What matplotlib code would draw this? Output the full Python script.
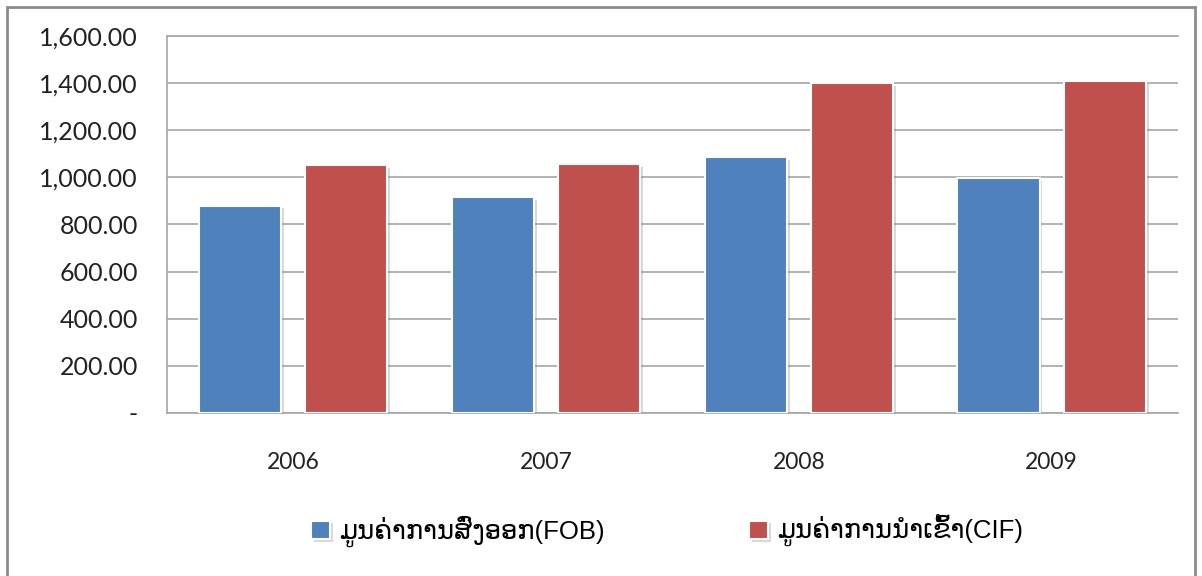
import matplotlib.pyplot as plt
import matplotlib.patheffects as pe
from matplotlib.patches import Rectangle
from matplotlib.ticker import FuncFormatter
import numpy as np

# values
years = ["2006", "2007", "2008", "2009"]
exports_fob = [880, 917, 1085, 998]
imports_cif = [1052, 1057, 1399, 1410]
series_labels = ["ມູນຄ່າການສົ່ງອອກ(FOB)", "ມູນຄ່າການນຳເຂົ້າ(CIF)"]

BLUE = "#4f81bd"
RED = "#c0504d"

plt.rcParams["font.family"] = ["Lato", "DejaVu Sans"]


def fmt_value(v, _pos):
    if abs(v) < 1e-9:
        return "-"
    return f"{v:,.2f}"


def main() -> None:
    fig = plt.figure(figsize=(12.02, 5.76), dpi=100)
    ax = fig.add_axes([0.1389, 0.283, 0.8411, 0.6545])

    x = np.arange(len(years))
    width = 0.325
    offset = 0.21
    shadow = [pe.SimplePatchShadow(offset=(2, -2), shadow_rgbFace="#7f7f7f", alpha=0.3), pe.Normal()]

    b1 = ax.bar(x - offset, exports_fob, width, color=BLUE, edgecolor="white",
                linewidth=1.5, zorder=3, label=series_labels[0])
    b2 = ax.bar(x + offset, imports_cif, width, color=RED, edgecolor="white",
                linewidth=1.5, zorder=3, label=series_labels[1])
    for bar in list(b1) + list(b2):
        bar.set_path_effects(shadow)

    ax.set_xlim(-0.5, len(years) - 0.5)
    ax.set_ylim(0, 1600)
    ax.set_yticks(np.arange(0, 1601, 200))
    ax.yaxis.set_major_formatter(FuncFormatter(fmt_value))
    ax.set_xticks(x)
    ax.set_xticklabels(years)

    ax.grid(axis="y", color="#a6a6a6", linewidth=1.2, zorder=0)
    ax.set_axisbelow(True)
    ax.spines["right"].set_visible(False)
    for side in ["left", "bottom", "top"]:
        ax.spines[side].set_color("#a6a6a6")
        ax.spines[side].set_linewidth(1.2)

    ax.tick_params(axis="y", length=0, pad=21, labelsize=18, labelcolor="#222222")
    ax.tick_params(axis="x", length=0, pad=28, labelsize=16.5, labelcolor="#222222")

    fig.legend(handles=[b1, b2], labels=series_labels, loc="center",
               bbox_to_anchor=(0.555, 0.078), ncol=2, frameon=False,
               handlelength=0.75, handleheight=0.75,
               handletextpad=0.35, columnspacing=5.6,
               prop={"family": ["Liberation Sans", "DejaVu Sans"], "size": 18.5})

    # outer frame of the chart area
    fig.patches.append(Rectangle((0.0058, -0.05), 0.9882, 1.038, transform=fig.transFigure,
                                 fill=False, edgecolor="#8c8c8c", linewidth=2))

    fig.savefig("out.png", dpi=100)


if __name__ == "__main__":
    main()
